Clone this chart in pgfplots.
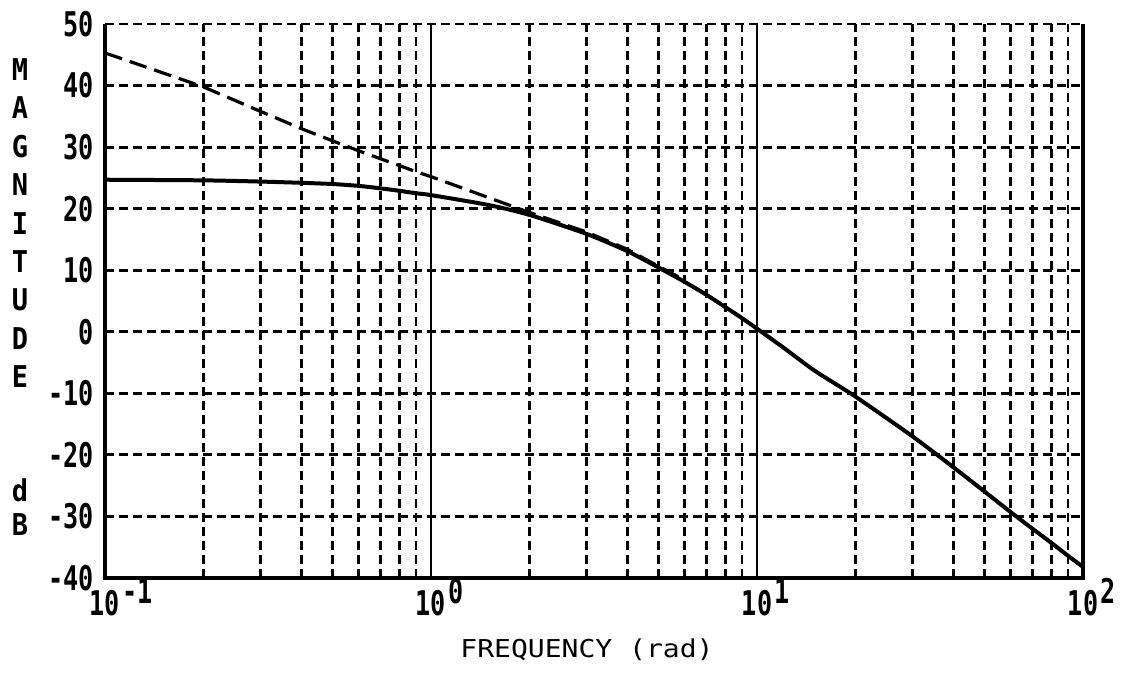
\documentclass[border=0pt]{standalone}
\usepackage{fontspec}
\usepackage{pgfplots}
\pgfplotsset{compat=1.18}
\usetikzlibrary{calc}
\newfontfamily\tickfont{DejaVu Sans Mono}[FakeStretch=0.74, RawFeature=+zero]
\newfontfamily\ylabfont{DejaVu Sans Mono}[FakeStretch=0.9]
\newfontfamily\xlabfont{DejaVu Sans Mono}[FakeStretch=1.14]
\newcommand{\expo}[1]{\rlap{\hspace{1pt}\smash{\raisebox{6pt}{#1}}}}
\begin{document}
\begin{tikzpicture}
\begin{axis}[
  name=ax, at={(0,0)}, anchor=south west,
  scale only axis, width=489pt, height=277pt,
  xmode=log, xmin=0.1, xmax=100, ymin=-40, ymax=50,
  xtick={0.1,1,10,100},
  xticklabels={{10\expo{-1}},{10\expo{0}},{10\expo{1}},{10\expo{2}}},
  ytick={-40,-30,-20,-10,0,10,20,30,40,50},
  yticklabels={-40,-30,-20,-10,0,10,20,30,40,50},
  axis line style={draw=none},
  major tick length=0pt, minor tick length=0pt,
  tick style={draw=none},
  xmajorgrids=true, xminorgrids=true, ymajorgrids=true, yminorgrids=false,
  major x grid style={solid, line width=1.3pt, black},
  minor x grid style={line width=1.4pt, black, dash pattern=on 4.5pt off 2.5pt},
  major y grid style={line width=1.4pt, black, dash pattern=on 4.5pt off 2.5pt},
  yticklabel style={font=\tickfont\bfseries\fontsize{17}{18}\selectfont, anchor=east, inner sep=0pt, xshift=-5.5pt},
  xticklabel style={font=\tickfont\bfseries\fontsize{17}{18}\selectfont, anchor=north, inner sep=0pt, yshift=-6pt},
]
\addplot[black, line width=2pt, smooth, tension=0.4] coordinates {
(0.1,24.7) (0.2,24.6) (0.3,24.4) (0.4,24.2) (0.5,24.0) (0.6,23.7) (0.7,23.3) (0.8,22.9) (0.9,22.5) (1,22.2)
(1.5,20.6) (2,19.0) (3,15.9) (4,13.1) (5,10.4) (6,8.1) (7,6.0) (8,4.0) (9,2.2) (10,0.5)
(12,-2.5) (15,-6.3) (20,-10.5) (30,-17.0) (40,-22.0) (50,-26.0) (60,-29.3) (70,-32.0) (80,-34.3) (90,-36.4) (100,-38.2)
};
\addplot[black, line width=1.6pt, dash pattern=on 9pt off 4pt] coordinates {
(0.1,45.3) (0.2,39.8) (0.3,35.8) (0.4,33.0) (0.5,31.0) (0.6,29.4) (0.7,28.1) (0.8,27.0) (0.9,26.0) (1,25.2)
(1.5,21.8) (2,19.4) (3,16.2) (4,13.4) (5,10.6) (6,8.4)
};
\end{axis}
\draw[line width=1.6pt, black] (ax.north west) -- (ax.south west) -- (ax.south east) -- (ax.north east);
\begin{scope}[every node/.style={font=\ylabfont\bfseries\fontsize{15}{16}\selectfont, inner sep=0pt}]
\node at ($(ax.south west)+(-42.5pt,254pt)$) {M};
\node at ($(ax.south west)+(-42.5pt,235pt)$) {A};
\node at ($(ax.south west)+(-42.5pt,215.5pt)$) {G};
\node at ($(ax.south west)+(-42.5pt,196.5pt)$) {N};
\node at ($(ax.south west)+(-42.5pt,177pt)$) {I};
\node at ($(ax.south west)+(-42.5pt,158pt)$) {T};
\node at ($(ax.south west)+(-42.5pt,139pt)$) {U};
\node at ($(ax.south west)+(-42.5pt,119.5pt)$) {D};
\node at ($(ax.south west)+(-42.5pt,100.5pt)$) {E};
\node at ($(ax.south west)+(-42.5pt,44pt)$) {d};
\node at ($(ax.south west)+(-42.5pt,26.5pt)$) {B};
\end{scope}
\node[font=\xlabfont\fontsize{12.3}{14}\selectfont, inner sep=0pt] at ($(ax.south west)+(241pt,-36pt)$) {FREQUENCY (rad)};
\pgfresetboundingbox
\path[use as bounding box] ($(ax.south west)+(-52.5pt,-49pt)$) rectangle ($(ax.north east)+(22.5pt,12pt)$);
\end{tikzpicture}
\end{document}
